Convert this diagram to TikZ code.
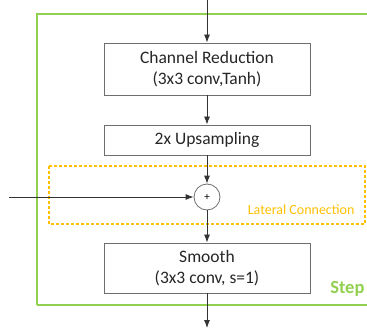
\documentclass[tikz,border=0pt]{standalone}
\usepackage{fontspec}
\setmainfont{Carlito}
\usetikzlibrary{arrows.meta}
\definecolor{stepgreen}{RGB}{146,208,80}
\definecolor{latorange}{RGB}{255,192,0}
\definecolor{boxgray}{RGB}{110,110,110}
\tikzset{
  layerbox/.style={draw=boxgray, line width=0.9pt, minimum width=206pt, align=center, inner sep=0pt, font=\fontsize{17.5}{21.5}\selectfont, text=black!85},
  flow/.style={draw=black!80, line width=0.8pt, -{Latex[length=8pt,width=6pt]}},
}
\begin{document}
\begin{tikzpicture}[x=1pt,y=-1pt]
\useasboundingbox (0,0) rectangle (367,329);
\begin{scope}
\clip (0,0) rectangle (367,329);
% step frame (extends beyond the right edge)
\draw[stepgreen, line width=2pt] (37,305) -- (37,14) -- (380,14);
\draw[stepgreen, line width=2pt] (37,305) -- (380,305);
\end{scope}
\node[font=\fontsize{18.5}{20}\selectfont\bfseries, text=stepgreen, anchor=east] (step) at (368,289) {Step};
% lateral connection region
\draw[latorange, line width=1.3pt, dash pattern=on 3pt off 2pt] (49,166) rectangle (365,224);
\node[font=\fontsize{14}{16}\selectfont, text=latorange, anchor=east] (latlabel) at (358,210) {Lateral Connection};
% layers
\node[layerbox, minimum height=52pt] (red) at (207,69) {Channel Reduction\\(3x3 conv,Tanh)};
\node[layerbox, minimum height=30pt] (up) at (207,140) {2x Upsampling};
\node[draw=boxgray, line width=0.8pt, circle, minimum size=26pt, inner sep=0pt, font=\fontsize{11}{11}\selectfont] (sum) at (207,197) {+};
\node[layerbox, minimum height=50pt] (smooth) at (207,268) {Smooth\\(3x3 conv, s=1)};
\coordinate (in) at (207,0);
\coordinate (lat) at (9,197);
\coordinate (out) at (207,328);
% connectors
\draw[flow] (in) -- (red);
\draw[flow] (red) -- (up);
\draw[flow] (up) -- (sum);
\draw[flow] (lat) -- (sum);
\draw[flow] (sum) -- (smooth);
\draw[flow] (smooth) -- (out);
\end{tikzpicture}
\end{document}
